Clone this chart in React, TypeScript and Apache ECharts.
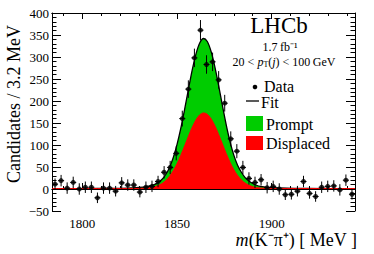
import React, { useEffect, useRef } from "react";
import * as echarts from "echarts";

const massCenters = [
  1785.6, 1788.8, 1792.0, 1795.2, 1798.4, 1801.6, 1804.8, 1808.0, 1811.2, 1814.4,
  1817.6, 1820.8, 1824.0, 1827.2, 1830.4, 1833.6, 1836.8, 1840.0, 1843.2, 1846.4,
  1849.6, 1852.8, 1856.0, 1859.2, 1862.4, 1865.6, 1868.8, 1872.0, 1875.2, 1878.4,
  1881.6, 1884.8, 1888.0, 1891.2, 1894.4, 1897.6, 1900.8, 1904.0, 1907.2, 1910.4,
  1913.6, 1916.8, 1920.0, 1923.2, 1926.4, 1929.6, 1932.8, 1936.0, 1939.2, 1942.4,
];
const candidates = [
  11, 19, 2, 15, 0, 4, 4, -20, 2, 2,
  -5, 14, 9, 9, -7, 4, 6, 17, 38, 49,
  81, 160, 227, 298, 361, 283, 289, 248, 195, 114,
  86, 49, 24, 15, 21, 3, 6, 0, -13, -12,
  -5, 17, -10, -17, 4, 6, 7, -2, 20, -12,
];
const errors = [
  13, 13, 13, 13, 13, 13, 13, 12, 13, 13,
  12, 13, 13, 13, 12, 13, 13, 13, 14, 15,
  16, 18, 20, 21, 23, 21, 21, 20, 19, 17,
  16, 15, 14, 13, 13, 13, 13, 13, 12, 12,
  12, 13, 12, 12, 13, 13, 13, 13, 13, 12,
];
const halfBin = 1.6;

const fitMass = [
  1784, 1800, 1816, 1824, 1830, 1834, 1838, 1840, 1842, 1844,
  1846, 1848, 1850, 1852, 1854, 1856, 1858, 1860, 1862, 1864,
  1866, 1868, 1870, 1872, 1874, 1876, 1878, 1880, 1882, 1884,
  1886, 1888, 1890, 1892, 1894, 1898, 1904, 1912, 1928, 1944,
];
const fitTotal = [
  1, 1, 1.4, 2.2, 3.7, 5.6, 10.1, 14.5, 21.5, 32.4,
  48.4, 70.9, 100.7, 137.6, 180.3, 225.7, 269.5, 306.5, 331.9, 342,
  335.2, 312.7, 277.6, 234.8, 189.3, 145.8, 107.5, 77, 54, 38,
  26, 18, 12.5, 8.5, 6, 3.8, 2.3, 1.4, 1, 1,
];
const fitDisplaced = [
  1, 1, 1, 1, 1.3, 2.1, 4.8, 7.7, 12.2, 18.9,
  28.4, 41.2, 57.3, 76.4, 97.6, 119.5, 140, 157, 168.5, 173,
  169.9, 159.8, 143.8, 123.8, 102, 80.5, 60.9, 44.1, 30.7, 20.6,
  13.4, 8.5, 5.3, 3.4, 2.3, 1.3, 1, 1, 1, 1,
];

const xMajorTicks = [1800, 1850, 1900];
const xMinorTicks = [1790, 1810, 1820, 1830, 1840, 1860, 1870, 1880, 1890, 1910, 1920, 1930, 1940];

const SERIF = "Liberation Serif";

function txt(x: number, y: number, text: string, size: number, extra: any = {}) {
  return {
    type: "text", x, y,
    style: {
      text, fontSize: size, fontFamily: SERIF, fill: "#000", verticalAlign: "middle",
      lineHeight: Math.round(size * 0.8), ...extra,
    },
  };
}

export default function App() {
  const ref = useRef<HTMLDivElement>(null);
  useEffect(() => {
    if (!ref.current) return;
    const chart = echarts.init(ref.current, null, { renderer: "svg" });
    const axisLine = { show: true, lineStyle: { color: "#000", width: 1 } };
    const tickStyle = { color: "#000", width: 1 };
    const xCommon = { type: "value", min: 1784, max: 1944, splitLine: { show: false }, axisLine };
    const yCommon = {
      type: "value", min: -50, max: 400, interval: 50, splitLine: { show: false }, axisLine,
      axisTick: { show: true, inside: true, length: 9, lineStyle: tickStyle },
      minorTick: { show: true, splitNumber: 5, length: 4.5, lineStyle: tickStyle },
      minorSplitLine: { show: false },
    };
    const totalPairs = fitMass.map((m, i) => [m, fitTotal[i]]);
    const dispPairs = fitMass.map((m, i) => [m, fitDisplaced[i]]);
    const dataPairs = massCenters.map((m, i) => [m, candidates[i], errors[i]]);
    chart.setOption({
      animation: false,
      textStyle: { fontFamily: SERIF },
      grid: { left: 52, right: 19, top: 13, bottom: 43, containLabel: false },
      xAxis: [
        {
          ...xCommon, position: "bottom",
          axisTick: { show: true, inside: true, length: 6, customValues: xMajorTicks, lineStyle: tickStyle },
          axisLabel: {
            show: true, customValues: xMajorTicks, margin: 6, color: "#000", fontSize: 13, fontFamily: SERIF,
            formatter: (v: number) => String(v),
          },
        },
        {
          ...xCommon, position: "bottom",
          axisTick: { show: true, inside: true, length: 3, customValues: xMinorTicks, lineStyle: tickStyle },
          axisLabel: { show: false },
        },
        {
          ...xCommon, position: "top",
          axisTick: { show: true, inside: true, length: 6, customValues: xMajorTicks, lineStyle: tickStyle },
          axisLabel: { show: false },
        },
        {
          ...xCommon, position: "top",
          axisTick: { show: true, inside: true, length: 3, customValues: xMinorTicks, lineStyle: tickStyle },
          axisLabel: { show: false },
        },
      ],
      yAxis: [
        {
          ...yCommon, position: "left",
          axisLabel: {
            show: true, margin: 3, color: "#000", fontSize: 13, fontFamily: SERIF,
            formatter: (v: number) => String(v).replace("-", "\u2212"),
          },
        },
        { ...yCommon, position: "right", axisLabel: { show: false } },
      ],
      series: [
        {
          name: "Prompt", type: "line", data: totalPairs, smooth: 0.3, symbol: "none", z: 1,
          lineStyle: { width: 0 }, areaStyle: { color: "#00cc00", opacity: 1 },
        },
        {
          name: "Fit", type: "line", data: totalPairs, smooth: 0.3, symbol: "none", z: 2,
          lineStyle: { color: "#000", width: 1.3 },
        },
        {
          name: "Displaced", type: "line", data: dispPairs, smooth: 0.3, symbol: "none", z: 3,
          lineStyle: { color: "#ff0000", width: 1 }, areaStyle: { color: "#ff0000", opacity: 1 },
        },
        {
          name: "errors", type: "custom", z: 4, data: dataPairs,
          renderItem: (params: any, api: any) => {
            const x = api.value(0), y = api.value(1), e = api.value(2);
            const t = api.coord([x, y + e]);
            const b = api.coord([x, y - e]);
            const l = api.coord([x - halfBin, y]);
            const r = api.coord([x + halfBin, y]);
            return {
              type: "group",
              children: [
                { type: "line", shape: { x1: t[0], y1: t[1], x2: b[0], y2: b[1] }, style: { stroke: "#000", lineWidth: 1 } },
                { type: "line", shape: { x1: l[0], y1: l[1], x2: r[0], y2: r[1] }, style: { stroke: "#000", lineWidth: 1 } },
              ],
            };
          },
        },
        {
          name: "Data", type: "scatter", z: 5, data: dataPairs.map((d) => [d[0], d[1]]),
          symbol: "circle", symbolSize: 5, itemStyle: { color: "#000" },
        },
      ],
      graphic: [
        { ...txt(14, 104, "Candidates / 3.2 MeV", 18, { align: "center" }), rotation: Math.PI / 2 },
        txt(357, 240, "{i|m}(K\u207B\u03C0\u207A) [ MeV ]", 18, {
          align: "right",
          rich: { i: { fontStyle: "italic", fontSize: 18, fontFamily: SERIF } },
        }),
        txt(279, 25, "LHCb", 23, { align: "center" }),
        txt(280, 47, "1.7\u2009fb\u207B\u00B9", 12, { align: "center" }),
        txt(284, 62, "20 < {i|p}{s|T}({i|j}) < 100\u2009GeV", 12, {
          align: "center",
          rich: {
            i: { fontStyle: "italic", fontSize: 12, fontFamily: SERIF },
            s: { fontSize: 8, fontFamily: SERIF, padding: [5, 0, 0, 0] },
          },
        }),
        { type: "circle", shape: { cx: 255, cy: 87, r: 2.3 }, style: { fill: "#000" } },
        txt(264, 86, "Data", 16),
        { type: "line", shape: { x1: 246, y1: 101, x2: 259, y2: 101 }, style: { stroke: "#000", lineWidth: 1.3 } },
        txt(261, 102, "Fit", 16),
        { type: "rect", shape: { x: 246, y: 116, width: 17, height: 15 }, style: { fill: "#00cc00" } },
        txt(266, 124, "Prompt", 16),
        { type: "rect", shape: { x: 246, y: 136, width: 17, height: 14 }, style: { fill: "#ff0000" } },
        txt(266, 143, "Displaced", 16),
      ],
    });
    return () => chart.dispose();
  }, []);
  return <div ref={ref} style={{ width: 374, height: 254, position: "absolute", left: 0, top: 0 }} />;
}
